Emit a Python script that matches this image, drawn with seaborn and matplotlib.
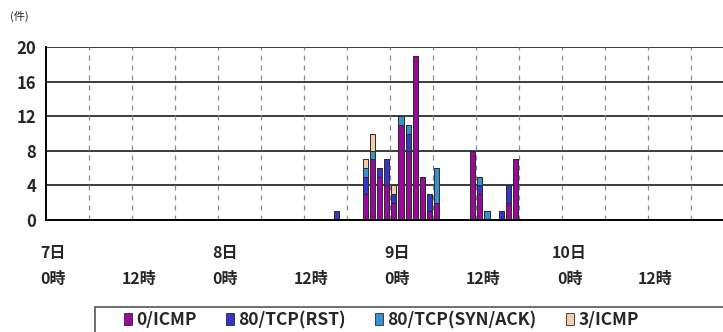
import matplotlib
matplotlib.use("Agg")
from matplotlib import pyplot as plt
from matplotlib.patches import Patch, Rectangle
import pandas as pd
import seaborn as sns

# hour index from 7日0時, and counts per type (stacked bottom -> top)
hours = [40, 44, 45, 46, 47, 48, 49, 50, 51, 52, 53, 54, 59, 60, 61, 63, 64, 65]
icmp0 = [0, 3, 7, 5, 4, 2, 11, 8, 19, 5, 1, 2, 8, 3, 0, 0, 2, 7]
tcp_rst = [1, 2, 0, 1, 3, 1, 0, 2, 0, 0, 2, 0, 0, 1, 0, 1, 2, 0]
tcp_synack = [0, 1, 1, 0, 0, 0, 1, 1, 0, 0, 0, 4, 0, 1, 1, 0, 0, 0]
icmp3 = [0, 1, 2, 0, 0, 1, 0, 0, 0, 0, 0, 0, 0, 0, 0, 0, 0, 0]

series = ["0/ICMP", "80/TCP(RST)", "80/TCP(SYN/ACK)", "3/ICMP"]
colors = ["#9a0a9a", "#3535c8", "#3a90d0", "#f0cfa8"]

tick_labels = ["7日\n0時", "\n12時", "8日\n0時", "\n12時", "9日\n0時", "\n12時", "10日\n0時", "\n12時"]

df = pd.DataFrame({"hour": hours, series[0]: icmp0, series[1]: tcp_rst,
                   series[2]: tcp_synack, series[3]: icmp3})
long = df.melt(id_vars="hour", var_name="type", value_name="count")
long = long[long["count"] > 0].reset_index(drop=True)
long["mid"] = long["hour"] + 0.5

sns.set_style("white")
plt.rcParams["font.family"] = ["Noto Sans CJK JP", "DejaVu Sans"]

fig = plt.figure(figsize=(7.23, 3.32), dpi=100)
ax = fig.add_axes([46 / 723, 1 - 220 / 332, 1 - 46 / 723, (220 - 47) / 332])

# seaborn stacks the last hue level at the bottom -> reverse the order
sns.histplot(data=long, x="mid", weights="count", hue="type",
             hue_order=series[::-1], palette=dict(zip(series, colors)),
             multiple="stack", binwidth=1, binrange=(0, 96), shrink=0.72,
             edgecolor="#2a2a2a", linewidth=0.7, alpha=1, legend=False, ax=ax)

ax.set_xlim(0, 94.4)
ax.set_ylim(0, 20)
ax.set_yticks(range(0, 21, 4))
ax.set_yticklabels([str(v) for v in range(0, 21, 4)], fontsize=12, fontweight="bold")
ax.set_xlabel("")
ax.set_ylabel("")

# horizontal solid grid, vertical dashed lines every 6 hours
for v in range(4, 21, 4):
    ax.axhline(v, color="#3c3c3c", lw=1.4, zorder=0)
for h in range(6, 95, 6):
    ax.axvline(h, color="#8a8a8a", lw=0.9, ls=(0, (4, 4)), zorder=0)

ax.set_xticks(range(0, 95, 6))
ax.set_xticklabels([])
ax.set_xticks([h + 1 for h in range(0, 95, 12)], minor=True)
ax.set_xticklabels(tick_labels, minor=True, fontsize=11.5, fontweight="bold",
                   linespacing=1.75)
ax.tick_params(axis="x", which="major", direction="out", length=5, width=1, color="black")
ax.tick_params(axis="x", which="minor", length=0, pad=18)
ax.tick_params(axis="y", direction="out", length=4, width=1, color="black", pad=3)

for s in ["top", "right"]:
    ax.spines[s].set_visible(False)
for s in ["left", "bottom"]:
    ax.spines[s].set_color("black")
    ax.spines[s].set_linewidth(1.4)

fig.text(10 / 723, 1 - 16 / 332, "(件)", fontsize=8, va="center", ha="left")

# legend box runs off the right and bottom edges as in the source
fig.patches.append(Rectangle((95 / 723, -0.05), 0.9, 1 - 307 / 332 + 0.05,
                             transform=fig.transFigure, facecolor="white",
                             edgecolor="#555555", linewidth=1.2))
handles = [Patch(facecolor=c, edgecolor="#2a2a2a", linewidth=0.6) for c in colors]
fig.legend(handles, series, loc="center left", bbox_to_anchor=(124 / 723, 1 - 320 / 332),
           ncol=4, frameon=False, prop={"weight": "bold", "size": 12.5},
           handlelength=0.45, handleheight=0.75, handletextpad=0.25,
           columnspacing=1.7, borderpad=0, borderaxespad=0)

fig.savefig("out.png", dpi=100)
